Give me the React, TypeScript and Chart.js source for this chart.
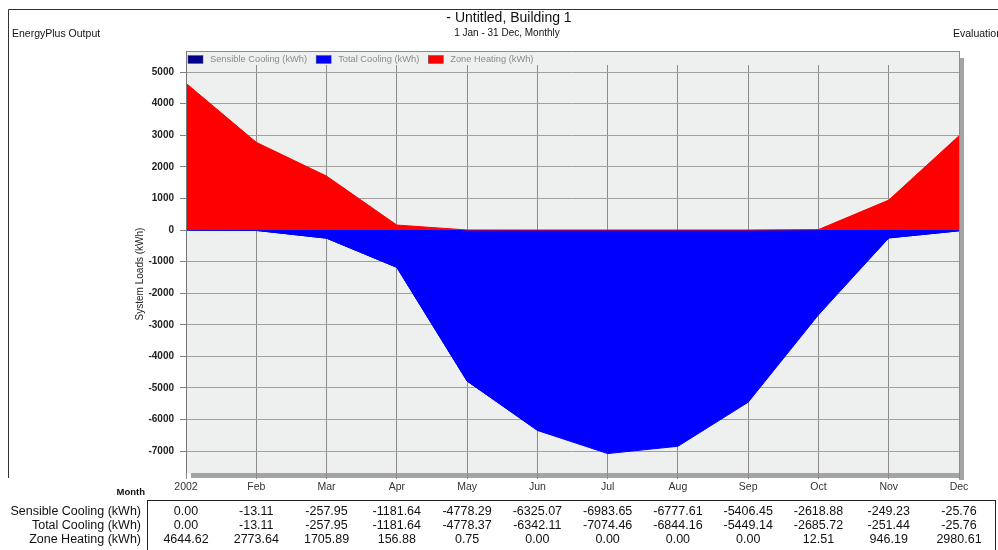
import React, { useEffect, useRef } from 'react';
import { Chart, registerables } from 'chart.js';

Chart.register(...registerables);

const months = ['2002', 'Feb', 'Mar', 'Apr', 'May', 'Jun', 'Jul', 'Aug', 'Sep', 'Oct', 'Nov', 'Dec'];
const sensibleCooling = [0.0, -13.11, -257.95, -1181.64, -4778.29, -6325.07, -6983.65, -6777.61, -5406.45, -2618.88, -249.23, -25.76];
const totalCooling = [0.0, -13.11, -257.95, -1181.64, -4778.37, -6342.11, -7074.46, -6844.16, -5449.14, -2685.72, -251.44, -25.76];
const zoneHeating = [4644.62, 2773.64, 1705.89, 156.88, 0.75, 0.0, 0.0, 0.0, 0.0, 12.51, 946.19, 2980.61];
const yTicks = [5000, 4000, 3000, 2000, 1000, 0, -1000, -2000, -3000, -4000, -5000, -6000, -7000];
const seriesNames = ['Sensible Cooling (kWh)', 'Total Cooling (kWh)', 'Zone Heating (kWh)'];
const seriesColors = ['#00008b', '#0000ff', '#ff0000'];
const tableValues = [sensibleCooling, totalCooling, zoneHeating];

const FONT = 'Arial, "Liberation Sans", sans-serif';
const PLOT_BG = '#eef0ef';

const decorPlugin = {
  id: 'decor',
  beforeDraw(chart: any) {
    const { ctx, chartArea: a } = chart;
    ctx.save();
    ctx.fillStyle = '#ffffff';
    ctx.fillRect(0, 0, chart.width, chart.height);
    // outer frame
    ctx.strokeStyle = '#333333';
    ctx.lineWidth = 1;
    ctx.beginPath();
    ctx.moveTo(8.5, 478);
    ctx.lineTo(8.5, 9.5);
    ctx.lineTo(998, 9.5);
    ctx.stroke();
    // shadow
    ctx.fillStyle = '#a4a4a4';
    ctx.fillRect(a.right, a.top + 7, 5, a.bottom - a.top);
    ctx.fillRect(a.left + 5, a.bottom, a.right - a.left, 5);
    // plot bg
    ctx.fillStyle = PLOT_BG;
    ctx.fillRect(a.left, a.top, a.right - a.left, a.bottom - a.top);
    ctx.restore();
  },
  beforeDatasetsDraw(chart: any) {
    const { ctx, chartArea: a } = chart;
    ctx.save();
    ctx.fillStyle = PLOT_BG;
    ctx.fillRect(a.left + 1, a.top, a.right - a.left - 1, 14);
    // legend
    ctx.font = `9.3px ${FONT}`;
    ctx.textBaseline = 'middle';
    ctx.textAlign = 'left';
    let x = a.left + 2;
    const cy = a.top + 8.5;
    seriesNames.forEach((name, i) => {
      ctx.fillStyle = seriesColors[i];
      ctx.fillRect(x, cy - 4, 15, 8);
      ctx.strokeStyle = '#555555';
      ctx.lineWidth = 0.5;
      ctx.strokeRect(x, cy - 4, 15, 8);
      ctx.fillStyle = '#8a8a8a';
      ctx.fillText(name, x + 22, cy);
      x += 22 + ctx.measureText(name).width + 9;
    });
    ctx.restore();
  },
  afterDraw(chart: any) {
    const { ctx, chartArea: a } = chart;
    const xs = chart.scales.x;
    ctx.save();
    // plot border
    ctx.strokeStyle = '#8c8c8c';
    ctx.lineWidth = 1;
    ctx.beginPath();
    ctx.moveTo(a.left, a.top + 0.5);
    ctx.lineTo(a.right + 0.5, a.top + 0.5);
    ctx.lineTo(a.right + 0.5, a.bottom);
    ctx.stroke();
    ctx.strokeStyle = '#777777';
    ctx.beginPath();
    ctx.moveTo(a.left + 0.5, a.top);
    ctx.lineTo(a.left + 0.5, a.bottom + 0.5);
    ctx.stroke();

    // titles
    ctx.fillStyle = '#111111';
    ctx.textBaseline = 'middle';
    ctx.textAlign = 'center';
    ctx.font = `14px ${FONT}`;
    ctx.fillText('- Untitled, Building 1', 509, 18);
    ctx.font = `10px ${FONT}`;
    ctx.fillText('1 Jan - 31 Dec, Monthly', 507, 33);
    ctx.textAlign = 'left';
    ctx.font = `10.5px ${FONT}`;
    ctx.fillText('EnergyPlus Output', 12, 34);
    ctx.fillText('Evaluation', 953, 34);

    // y axis title
    ctx.save();
    ctx.translate(140, 274);
    ctx.rotate(-Math.PI / 2);
    ctx.textAlign = 'center';
    ctx.font = `10px ${FONT}`;
    ctx.fillStyle = '#222222';
    ctx.fillText('System Loads (kWh)', 0, 0);
    ctx.restore();

    // Month label
    ctx.textAlign = 'right';
    ctx.font = `bold 9.5px ${FONT}`;
    ctx.fillStyle = '#111111';
    ctx.fillText('Month', 145, 492);

    // data table
    ctx.strokeStyle = '#222222';
    ctx.lineWidth = 1;
    ctx.strokeRect(147.5, 500.5, 848, 60);
    ctx.font = `12.5px ${FONT}`;
    const rowY = [512, 526, 540];
    seriesNames.forEach((name, r) => {
      ctx.textAlign = 'right';
      ctx.fillText(name, 141, rowY[r]);
      ctx.textAlign = 'center';
      tableValues[r].forEach((v, i) => {
        ctx.fillText(v.toFixed(2), xs.getPixelForValue(i), rowY[r]);
      });
    });
    ctx.restore();
  },
};

export default function App() {
  const ref = useRef<HTMLCanvasElement | null>(null);
  useEffect(() => {
    if (!ref.current) return;
    const chart = new Chart(ref.current, {
      type: 'line',
      data: {
        labels: months,
        datasets: [
          {
            label: seriesNames[0],
            data: sensibleCooling,
            borderColor: seriesColors[0],
            backgroundColor: seriesColors[0],
            fill: 'origin',
            borderWidth: 1,
            pointRadius: 0,
            tension: 0,
            order: 2,
          },
          {
            label: seriesNames[1],
            data: totalCooling,
            borderColor: seriesColors[1],
            backgroundColor: seriesColors[1],
            fill: 'origin',
            borderWidth: 1,
            pointRadius: 0,
            tension: 0,
            order: 1,
          },
          {
            label: seriesNames[2],
            data: zoneHeating,
            borderColor: seriesColors[2],
            backgroundColor: seriesColors[2],
            fill: 'origin',
            borderWidth: 1,
            pointRadius: 0,
            tension: 0,
            order: 0,
          },
        ],
      },
      options: {
        responsive: false,
        animation: false,
        events: [],
        layout: { padding: { left: 126, right: 39, top: 51, bottom: 47 } },
        plugins: { legend: { display: false }, tooltip: { enabled: false }, title: { display: false } },
        scales: {
          x: {
            type: 'category',
            offset: false,
            grid: { color: '#8a8a8a', lineWidth: 1, drawTicks: true, tickLength: 6, tickColor: '#8a8a8a' },
            border: { display: false },
            ticks: {
              autoSkip: false,
              maxRotation: 0,
              minRotation: 0,
              padding: 2,
              color: '#333333',
              font: { family: FONT, size: 10.5 },
            },
            afterFit: (s: any) => {
              s.height = 30;
            },
          },
          y: {
            min: -7690,
            max: 5665,
            afterBuildTicks: (s: any) => {
              s.ticks = yTicks.map((v) => ({ value: v }));
            },
            grid: { color: '#a0a0a0', lineWidth: 1, drawTicks: true, tickLength: 6, tickColor: '#808080' },
            border: { display: false },
            ticks: {
              padding: 6,
              color: '#222222',
              font: { family: FONT, size: 10, weight: 'bold' },
              callback: (v: any) => String(v),
            },
            afterFit: (s: any) => {
              s.width = 60;
            },
          },
        },
      },
      plugins: [decorPlugin],
    });
    return () => chart.destroy();
  }, []);
  return (
    <div style={{ position: 'absolute', left: 0, top: 0, width: 998, height: 550, overflow: 'hidden', background: '#fff' }}>
      <canvas ref={ref} width={998} height={550} style={{ width: 998, height: 550, display: 'block' }} />
    </div>
  );
}
